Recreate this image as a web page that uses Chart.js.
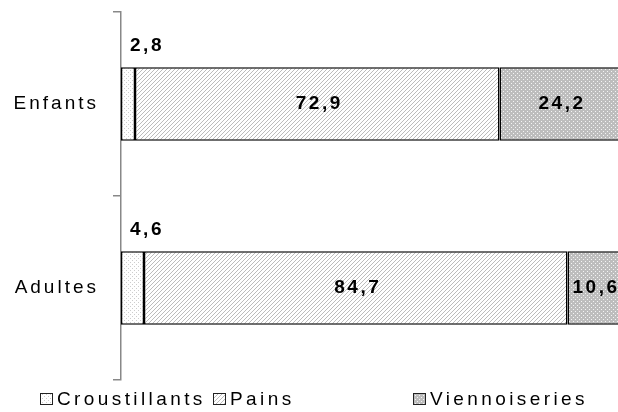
<!DOCTYPE html>
<html>
<head>
<meta charset="utf-8">
<script src="https://cdn.jsdelivr.net/npm/chart.js@4/dist/chart.umd.min.js"></script>
<style>
  html, body { margin: 0; padding: 0; background: #fff; overflow: hidden; }
  #wrap { width: 626px; height: 412px; position: relative; }
</style>
</head>
<body>
<div id="wrap"><canvas id="c"></canvas></div>
<script>
// Part de chaque famille de produits (%)
const categories = ['Enfants', 'Adultes'];
const seriesNames = ['Croustillants', 'Pains', 'Viennoiseries'];
const croustillants = [2.8, 4.6];
const pains = [72.9, 84.7];
const viennoiseries = [24.2, 10.6];

const FONT = '"Liberation Sans", Arial, sans-serif';

// Small tiled fills
function makePattern(size, bg, fg, pixels) {
  const c = document.createElement('canvas');
  c.width = size; c.height = size;
  const g = c.getContext('2d');
  g.fillStyle = bg; g.fillRect(0, 0, size, size);
  g.fillStyle = fg;
  pixels.forEach(([x, y]) => g.fillRect(x, y, 1, 1));
  return g.createPattern(c, 'repeat');
}
const patDots = makePattern(4, '#ffffff', '#cdcdcd', [[0, 0], [2, 2]]);
const patHatch = makePattern(4, '#ffffff', '#bcbcbc', [[3, 0], [2, 1], [1, 2], [0, 3]]);
const patGrey = makePattern(4, '#bdbdbd', '#f4f4f4', [[1, 1], [3, 3]]);
const fills = [patDots, patHatch, patGrey];

const fmt = v => v.toFixed(1).replace('.', ',');

const spacing = {
  id: 'spacing',
  beforeUpdate(chart) { chart.ctx.letterSpacing = '3px'; },
  beforeLayout(chart) { chart.ctx.letterSpacing = '3px'; },
  beforeDraw(chart) { chart.ctx.letterSpacing = '3px'; }
};

// Value labels: first series above the bar, others centred in their segment
const valueLabels = {
  id: 'valueLabels',
  afterDatasetsDraw(chart) {
    const ctx = chart.ctx;
    ctx.save();
    ctx.letterSpacing = '2.5px';
    ctx.font = 'bold 19px ' + FONT;
    ctx.fillStyle = '#000';
    ctx.textBaseline = 'middle';
    ctx.textAlign = 'center';
    chart.data.datasets.forEach((ds, di) => {
      chart.getDatasetMeta(di).data.forEach((bar, i) => {
        const txt = fmt(ds.data[i]);
        if (di === 0) {
          ctx.fillText(txt, bar.base + 26, bar.y - bar.height / 2 - 21);
        } else {
          ctx.fillText(txt, (bar.x + bar.base) / 2 + 2, bar.y);
        }
      });
    });
    ctx.restore();
  }
};

// Legend row along the bottom
const legendXs = [40, 213, 413];
const bottomLegend = {
  id: 'bottomLegend',
  afterDraw(chart) {
    const ctx = chart.ctx;
    ctx.save();
    ctx.letterSpacing = '3.4px';
    ctx.font = '19px ' + FONT;
    ctx.textBaseline = 'middle';
    ctx.textAlign = 'left';
    chart.data.datasets.forEach((ds, di) => {
      const x = legendXs[di];
      ctx.fillStyle = ds.backgroundColor;
      ctx.fillRect(x, 393, 12, 11);
      ctx.strokeStyle = '#222';
      ctx.lineWidth = 1;
      ctx.strokeRect(x + 0.5, 393.5, 12, 11);
      ctx.fillStyle = '#000';
      ctx.fillText(ds.label, x + 17, 400);
    });
    ctx.restore();
  }
};

const seriesValues = [croustillants, pains, viennoiseries];

new Chart(document.getElementById('c'), {
  type: 'bar',
  data: {
    labels: categories,
    datasets: seriesNames.map((name, i) => ({
      label: name,
      data: seriesValues[i],
      backgroundColor: fills[i],
      borderColor: '#000',
      borderWidth: 1.5,
      borderSkipped: false,
      categoryPercentage: 0.4,
      barPercentage: 1
    }))
  },
  options: {
    indexAxis: 'y',
    responsive: true,
    maintainAspectRatio: false,
    animation: false,
    layout: { padding: { top: 12, bottom: 32, right: 5, left: 0 } },
    plugins: { legend: { display: false }, tooltip: { enabled: false } },
    scales: {
      x: { stacked: true, display: false, min: 0, max: 100 },
      y: {
        stacked: true,
        border: { color: '#888', width: 1.5 },
        grid: { drawOnChartArea: false, color: '#888', tickLength: 8, lineWidth: 1.5 },
        ticks: { color: '#000', font: { family: FONT, size: 19 }, padding: 14 },
        afterFit(scale) {
          scale.width = 121;
          scale.paddingTop = 0;
          scale.paddingBottom = 0;
        }
      }
    }
  },
  plugins: [spacing, valueLabels, bottomLegend]
});
</script>
</body>
</html>
